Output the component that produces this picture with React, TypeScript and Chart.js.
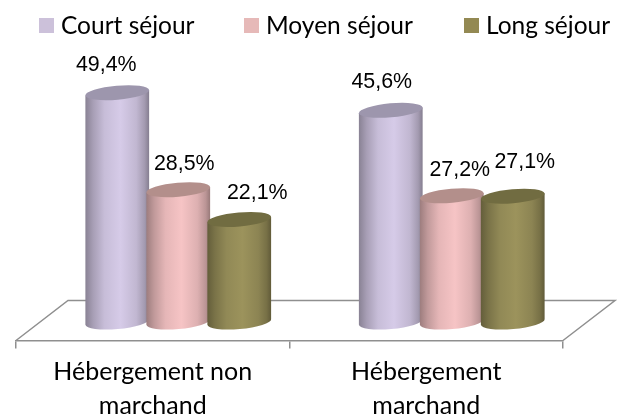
import React, { useEffect, useRef } from "react";
import { Chart, registerables } from "chart.js";

Chart.register(...registerables);

const categories = [["Hébergement non", "marchand"], ["Hébergement", "marchand"]];
const seriesNames = ["Court séjour", "Moyen séjour", "Long séjour"];
const courtSejour = [49.4, 45.6];
const moyenSejour = [28.5, 27.2];
const longSejour = [22.1, 27.1];

const legendColors = ["#ccc1da", "#e6b9b8", "#938953"];
const bodyColors = [[214, 203, 232], [246, 196, 197], [156, 147, 92]];
const capColors = ["#9d96ad", "#b38f8b", "#716c41"];
const legendSwatchX = [39, 244, 464];
// Hand-placed label shifts, as in the source slide [dx, dy] from the top of each cylinder.
const labelShifts = [
  [[-11, -28], [-9, -28]],
  [[6, -26], [8, -26]],
  [[18, -26], [12, -34]],
];

const DEPTH_X = 52;
const DEPTH_Y = -40;
const BAR_DX = 25.5;
const BAR_DY = -18.5;
const TILT = (-5 * Math.PI) / 180;
const CAP_RY = 7;
const GRID = "#8f8f8f";
const SANS = "Lato, 'Noto Sans', sans-serif";
const LABEL_FONT = "21.4px 'Liberation Sans', Arial, sans-serif";

function shade(c: number[], k: number) {
  return `rgb(${c.map((v) => Math.min(255, Math.round(v * k))).join(",")})`;
}

const scene = {
  id: "scene",
  beforeDatasetsDraw(chart: any) {
    const { ctx, chartArea: a } = chart;
    ctx.save();
    ctx.strokeStyle = GRID;
    ctx.lineWidth = 1.5;
    ctx.beginPath();
    ctx.moveTo(a.left, a.bottom);
    ctx.lineTo(a.left + DEPTH_X, a.bottom + DEPTH_Y);
    ctx.lineTo(a.right + DEPTH_X, a.bottom + DEPTH_Y);
    ctx.lineTo(a.right, a.bottom);
    ctx.stroke();
    ctx.restore();
  },
  afterDatasetsDraw(chart: any) {
    const { ctx } = chart;
    chart.data.datasets.forEach((_: any, di: number) => {
      const meta = chart.getDatasetMeta(di);
      meta.data.forEach((bar: any) => {
        const rx = bar.width / 2;
        const cx = bar.x + BAR_DX;
        const top = bar.y + BAR_DY;
        const bottom = bar.base + BAR_DY;
        const ex = rx * Math.cos(TILT);
        const ey = rx * Math.sin(TILT);
        const g = ctx.createLinearGradient(cx - ex, 0, cx + ex, 0);
        const c = bodyColors[di];
        g.addColorStop(0, shade(c, 0.64));
        g.addColorStop(0.12, shade(c, 0.78));
        g.addColorStop(0.3, shade(c, 0.93));
        g.addColorStop(0.55, shade(c, 1));
        g.addColorStop(0.8, shade(c, 0.9));
        g.addColorStop(0.93, shade(c, 0.76));
        g.addColorStop(1, shade(c, 0.62));
        ctx.save();
        ctx.fillStyle = g;
        ctx.beginPath();
        ctx.moveTo(cx - ex, top - ey);
        ctx.lineTo(cx - ex, bottom - ey);
        ctx.ellipse(cx, bottom, rx, CAP_RY, TILT, Math.PI, 0, true);
        ctx.lineTo(cx + ex, top + ey);
        ctx.closePath();
        ctx.fill();
        ctx.fillStyle = capColors[di];
        ctx.beginPath();
        ctx.ellipse(cx, top, rx, CAP_RY, TILT, 0, Math.PI * 2);
        ctx.fill();
        ctx.restore();
      });
    });
    // value labels
    ctx.save();
    ctx.font = LABEL_FONT;
    ctx.fillStyle = "#000";
    ctx.textAlign = "center";
    ctx.textBaseline = "middle";
    chart.data.datasets.forEach((ds: any, di: number) => {
      chart.getDatasetMeta(di).data.forEach((bar: any, i: number) => {
        const [sx, sy] = labelShifts[di][i];
        const text = ds.data[i].toFixed(1).replace(".", ",") + "%";
        ctx.fillText(text, bar.x + BAR_DX + sx, bar.y + BAR_DY + sy);
      });
    });
    // legend
    ctx.font = `24.5px ${SANS}`;
    ctx.textAlign = "left";
    chart.data.datasets.forEach((ds: any, di: number) => {
      const x = legendSwatchX[di];
      ctx.fillStyle = legendColors[di];
      ctx.fillRect(x, 18, 15, 15);
      ctx.fillStyle = "#000";
      ctx.fillText(ds.label, x + 22, 26);
    });
    ctx.restore();
  },
};

export default function App() {
  const ref = useRef<HTMLCanvasElement>(null);
  useEffect(() => {
    const chart = new Chart(ref.current as HTMLCanvasElement, {
      type: "bar",
      data: {
        labels: categories,
        datasets: [courtSejour, moyenSejour, longSejour].map((data, i) => ({
          label: seriesNames[i],
          data,
          backgroundColor: "rgba(0,0,0,0)",
          categoryPercentage: 0.669,
          barPercentage: 1.049,
        })),
      } as any,
      options: {
        animation: false,
        responsive: false,
        events: [],
        layout: { padding: { left: 16, right: 61, top: 62, bottom: 0 } },
        plugins: { legend: { display: false }, tooltip: { enabled: false } },
        scales: {
          x: {
            afterFit(scale: any) {
              scale.height = 77.5;
            },
            border: { display: true, color: GRID, width: 1.5 },
            grid: { display: true, drawOnChartArea: false, drawTicks: true, tickLength: 8, color: GRID, lineWidth: 1.5 },
            ticks: {
              color: "#000",
              padding: 7,
              maxRotation: 0,
              autoSkip: false,
              font: { family: SANS, size: 25, lineHeight: 1.35 },
            },
          },
          y: { display: false, min: 0, max: 60 },
        },
      },
      plugins: [scene],
    } as any);
    return () => chart.destroy();
  }, []);
  return (
    <div style={{ position: "absolute", left: 0, top: 0, width: 624, height: 418 }}>
      <canvas ref={ref} width={624} height={418} style={{ display: "block", width: 624, height: 418 }} />
    </div>
  );
}
